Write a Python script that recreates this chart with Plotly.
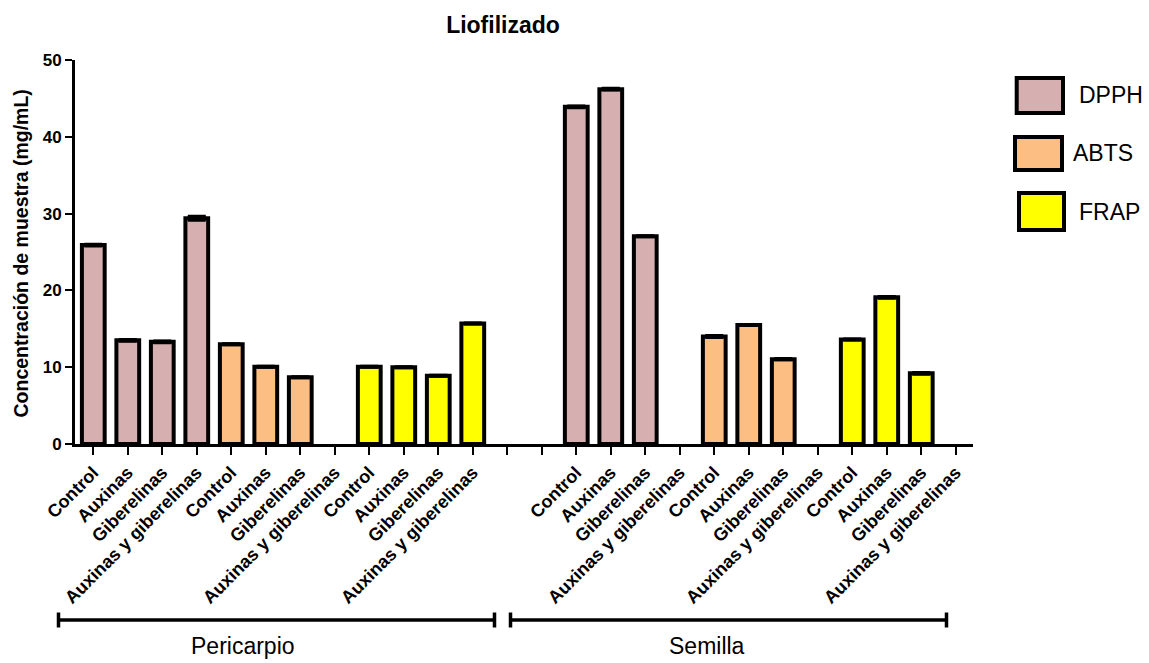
import plotly.graph_objects as go

# ---------------- data ----------------
tissues = ["Pericarpio", "Semilla"]
tissue_offsets = [0, 14]
treatments = ["Control", "Auxinas", "Giberelinas", "Auxinas y giberelinas"]
assays = ["DPPH", "ABTS", "FRAP"]

dpph_pericarpio = [25.9, 13.5, 13.3, 29.4]
abts_pericarpio = [13.0, 10.05, 8.7, None]
frap_pericarpio = [10.05, 10.0, 8.9, 15.7]

dpph_semilla = [43.9, 46.2, 27.05, None]
abts_semilla = [14.0, 15.5, 11.05, None]
frap_semilla = [13.6, 19.1, 9.2, None]

dpph_err_pericarpio = [0.15, 0.15, 0.15, 0.3]
abts_err_pericarpio = [0.1, 0.1, 0.1, None]
frap_err_pericarpio = [0.1, 0.1, 0.1, 0.1]
dpph_err_semilla = [0.15, 0.15, 0.1, None]
abts_err_semilla = [0.15, 0.1, 0.1, None]
frap_err_semilla = [0.1, 0.15, 0.15, None]

colors = {"DPPH": "#D6B0B1", "ABTS": "#FCBE82", "FRAP": "#FFFF00"}

values = {
    "DPPH": [dpph_pericarpio, dpph_semilla],
    "ABTS": [abts_pericarpio, abts_semilla],
    "FRAP": [frap_pericarpio, frap_semilla],
}
errors = {
    "DPPH": [dpph_err_pericarpio, dpph_err_semilla],
    "ABTS": [abts_err_pericarpio, abts_err_semilla],
    "FRAP": [frap_err_pericarpio, frap_err_semilla],
}

n_slots = 26
tick_text = [""] * n_slots
for ti, off in enumerate(tissue_offsets):
    for ai in range(len(assays)):
        for ri, tr in enumerate(treatments):
            tick_text[off + 4 * ai + ri] = tr

FONT = "Liberation Sans, Arial, sans-serif"

fig = go.Figure()
for ai, assay in enumerate(assays):
    xs, ys, es = [], [], []
    for ti, off in enumerate(tissue_offsets):
        for ri in range(len(treatments)):
            v = values[assay][ti][ri]
            if v is None:
                continue
            xs.append(off + 4 * ai + ri)
            ys.append(v)
            es.append(errors[assay][ti][ri])
    fig.add_trace(go.Bar(
        x=xs, y=ys, name=assay, width=0.66,
        marker=dict(color=colors[assay], line=dict(color="black", width=4)),
        error_y=dict(type="data", array=es, visible=True, color="black",
                     thickness=2.5, width=9),
        showlegend=False,
    ))

# ---------------- layout ----------------
L, R, T, B = 75, 176, 60, 219
W, H = 1149, 663
plot_w = W - L - R
plot_h = H - T - B

def px_x(p):
    return (p - L) / plot_w

def px_y(p):
    return (H - B - p) / plot_h

fig.update_layout(
    width=W, height=H,
    margin=dict(l=L, r=R, t=T, b=B, autoexpand=False),
    paper_bgcolor="white", plot_bgcolor="white",
    barmode="overlay",
    font=dict(family=FONT, color="black"),
    title=dict(text="<b>Liofilizado</b>", x=0.4766, xref="paper", xanchor="center",
               y=1 - 25 / H, yref="container", yanchor="middle",
               font=dict(size=23, family=FONT, color="black")),
    xaxis=dict(
        range=[-0.53, 25.5], tickmode="array", tickvals=list(range(n_slots)),
        ticktext=[f"<b>{t}</b>" if t else "" for t in tick_text],
        tickangle=-45, tickfont=dict(size=18, family=FONT, color="black"),
        showline=True, linecolor="black", linewidth=3,
        ticks="outside", ticklen=8, tickwidth=2, tickcolor="black",
        showgrid=False, zeroline=False, fixedrange=True,
    ),
    yaxis=dict(
        range=[0, 50], tickmode="array", tickvals=[0, 10, 20, 30, 40, 50],
        ticktext=[f"<b>{v}</b>" for v in [0, 10, 20, 30, 40, 50]],
        tickfont=dict(size=17, family=FONT, color="black"),
        showline=True, linecolor="black", linewidth=3,
        ticks="outside", ticklen=7, tickwidth=2, tickcolor="black",
        showgrid=False, zeroline=False, fixedrange=True,
    ),
)

annotations = []
shapes = []

# y axis title
annotations.append(dict(
    text="<b>Concentración de muestra (mg/mL)</b>", textangle=-90,
    xref="paper", yref="paper", x=px_x(20), y=px_y(253.5),
    xanchor="center", yanchor="middle", showarrow=False,
    font=dict(size=19.5, family=FONT, color="black"),
))

# group brackets (pixel positions converted to paper coordinates)
bracket_px = {"Pericarpio": (58.5, 494.5), "Semilla": (510.5, 946.5)}
label_px = {"Pericarpio": 243, "Semilla": 707}
yb = px_y(620)
cap = 7.5 / plot_h
for t in tissues:
    x0, x1 = (px_x(p) for p in bracket_px[t])
    shapes.append(dict(type="line", xref="paper", yref="paper", x0=x0, x1=x1, y0=yb, y1=yb,
                       line=dict(color="black", width=3.5)))
    for xc in (x0, x1):
        shapes.append(dict(type="line", xref="paper", yref="paper", x0=xc, x1=xc,
                           y0=yb - cap, y1=yb + cap, line=dict(color="black", width=3.5)))
    annotations.append(dict(text=t, xref="paper", yref="paper", x=px_x(label_px[t]),
                            y=px_y(646), xanchor="center", yanchor="middle", showarrow=False,
                            font=dict(size=23, family=FONT, color="black")))

# legend (drawn)
legend_boxes = {
    "DPPH": (1016.7, 1063, 78, 113, 1077, 95),
    "ABTS": (1015, 1062, 137, 170, 1071, 153),
    "FRAP": (1019, 1064, 193, 230, 1077, 212),
}
for assay in assays:
    bx0, bx1, by0, by1, tx, ty = legend_boxes[assay]
    shapes.append(dict(type="rect", xref="paper", yref="paper",
                       x0=px_x(bx0), x1=px_x(bx1), y0=px_y(by1), y1=px_y(by0),
                       fillcolor=colors[assay], line=dict(color="black", width=4)))
    annotations.append(dict(text=assay, xref="paper", yref="paper", x=px_x(tx), y=px_y(ty),
                            xanchor="left", yanchor="middle", showarrow=False,
                            font=dict(size=23, family=FONT, color="black")))

fig.update_layout(annotations=annotations, shapes=shapes)

fig.write_html("out.html", config={"displayModeBar": False},
               post_script="document.body.style.margin='0px';document.body.style.padding='0px';")
